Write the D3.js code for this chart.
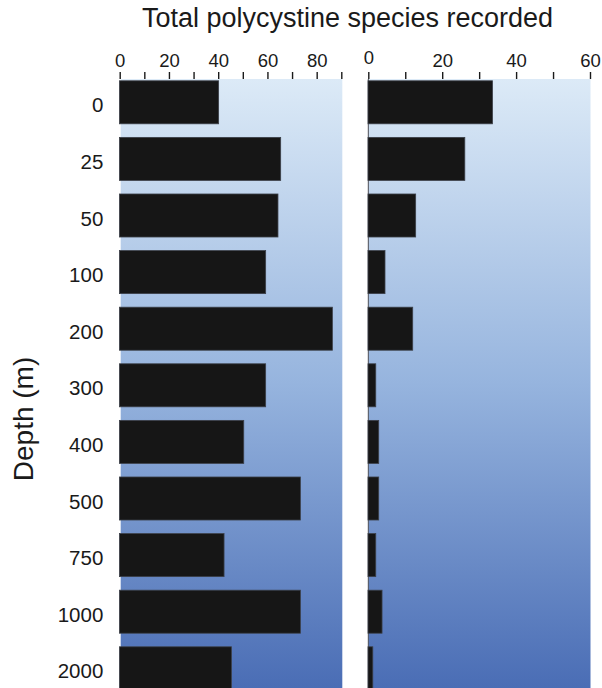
<!DOCTYPE html>
<html>
<head>
<meta charset="utf-8">
<script src="https://cdn.jsdelivr.net/npm/d3@7"></script>
<style>
  html, body { margin: 0; padding: 0; background: #fff; }
  svg { display: block; font-family: "Liberation Sans", Arial, sans-serif; }
</style>
</head>
<body>
<svg id="chart" width="602" height="688"></svg>
<script>
const depths = ["0", "25", "50", "100", "200", "300", "400", "500", "750", "1000", "2000"];
const leftValues = [40.3, 65.5, 64.4, 59.4, 86.5, 59.4, 50.5, 73.5, 42.5, 73.5, 45.5];
const rightValues = [33.7, 26.2, 12.9, 4.6, 12.1, 2.1, 2.9, 2.9, 2.1, 3.8, 1.3];
const leftTicks = [0, 10, 20, 30, 40, 50, 60, 70, 80, 90];
const rightTicks = [0, 10, 20, 30, 40, 50, 60];
const titleText = "Total polycystine species recorded";
const yTitle = "Depth (m)";

const svg = d3.select("#chart");
const W = 602, H = 688;
const panelTop = 79;

const y = d3.scaleBand().domain(depths).range([74, 696.6]).paddingInner(0.24).paddingOuter(0.12);
const xL = d3.scaleLinear().domain([0, 90]).range([119.7, 341.3]);
const xR = d3.scaleLinear().domain([0, 60]).range([368.3, 590]);

const defs = svg.append("defs");
const grad = defs.append("linearGradient").attr("id", "bg")
  .attr("gradientUnits", "userSpaceOnUse")
  .attr("x1", 0).attr("x2", 0).attr("y1", panelTop).attr("y2", H);
grad.append("stop").attr("offset", "0%").attr("stop-color", "#dceaf7");
grad.append("stop").attr("offset", "50%").attr("stop-color", "#96b4de");
grad.append("stop").attr("offset", "100%").attr("stop-color", "#4a6db5");

function panel(x, vals, ticks, leftLine) {
  const [r0, r1] = x.range();
  svg.append("rect").attr("x", r0 + (leftLine ? 0 : 1)).attr("y", panelTop)
    .attr("width", r1 - r0 + (leftLine ? 0.5 : 0)).attr("height", H - panelTop + 2)
    .attr("fill", "url(#bg)");
  if (leftLine) {
    svg.append("line").attr("x1", r0).attr("x2", r0).attr("y1", panelTop).attr("y2", H)
      .attr("stroke", "#4a4d55").attr("stroke-width", 1);
  }
  svg.append("g").selectAll("rect").data(vals).join("rect")
    .attr("x", x(0) - 0.3)
    .attr("y", (d, i) => y(depths[i]))
    .attr("width", d => x(d) - x(0))
    .attr("height", y.bandwidth())
    .attr("fill", "#161616")
    .attr("stroke", "#3c4049").attr("stroke-width", 0.8);

  const ax = d3.axisTop(x).tickValues(ticks)
    .tickFormat(d => d % 20 === 0 ? d : "")
    .tickSize(7).tickPadding(5);
  const g = svg.append("g").attr("transform", `translate(0,${panelTop})`).call(ax);
  g.select(".domain").remove();
  g.selectAll(".tick line").attr("stroke", "#1a1a1a").attr("stroke-width", 1.4);
  g.selectAll(".tick text").attr("font-size", 18.5).attr("fill", "#1a1a1a")
    .attr("font-family", "Liberation Sans, Arial, sans-serif");
  return g;
}

panel(xL, leftValues, leftTicks, false);
const gR = panel(xR, rightValues, rightTicks, true);
gR.selectAll(".tick text").filter(d => d === 0).attr("dy", "-3");

// y axis labels
const gy = svg.append("g").attr("transform", `translate(${xL(0)},0)`)
  .call(d3.axisLeft(y).tickSize(0).tickPadding(16.4));
gy.select(".domain").remove();
gy.selectAll(".tick text").attr("font-size", 20.5).attr("fill", "#1a1a1a")
  .attr("font-family", "Liberation Sans, Arial, sans-serif")
  .attr("y", 3.5);

svg.append("text").attr("x", 347.5).attr("y", 27)
  .attr("text-anchor", "middle").attr("font-size", 27).attr("fill", "#1a1a1a")
  .text(titleText);

svg.append("text").attr("transform", "translate(33,419) rotate(-90)")
  .attr("text-anchor", "middle").attr("font-size", 28).attr("fill", "#1a1a1a")
  .text(yTitle);
</script>
</body>
</html>
